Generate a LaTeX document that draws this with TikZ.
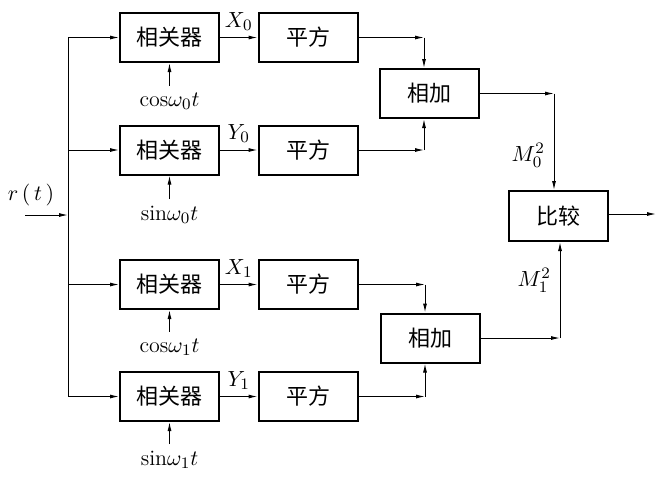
\documentclass[tikz,border=0pt]{standalone}
\usepackage{fontspec}
\newfontfamily\cjk{Noto Sans CJK SC}
\usetikzlibrary{arrows.meta}
\begin{document}
\begin{tikzpicture}[x=0.5pt, y=-0.5pt, every node/.style={font=\fontsize{11}{13}\selectfont},
    blk/.style={draw, line width=1pt, minimum width=49.5pt, minimum height=24.5pt, inner sep=0pt, font=\cjk\fontsize{11}{13}\selectfont},
    sig/.style={line width=0.5pt, -{Latex[length=4.5pt,width=2pt]}}]
  \useasboundingbox (0,0) rectangle (662,479);
  % correlators and squarers
  \foreach \i/\y in {0/37.5, 1/150, 2/284.5, 3/396.5} {
    \node[blk] (cor\i) at (169.5,\y) {相关器};
    \node[blk] (sq\i) at (308,\y) {平方};
  }
  \node[blk] (add0) at (429.5,93.5) {相加};
  \node[blk] (add1) at (430,338) {相加};
  \node[blk, minimum height=25pt] (cmp) at (558.5,216) {比较};
  % local references
  \node (ref0) at (169.5,101) {$\mathrm{cos}\omega_0 t$};
  \node (ref1) at (169.5,215) {$\mathrm{sin}\omega_0 t$};
  \node (ref2) at (169.5,347) {$\mathrm{cos}\omega_1 t$};
  \node (ref3) at (169.5,460) {$\mathrm{sin}\omega_1 t$};
  \foreach \i in {0,...,3}
    \draw[sig] (ref\i.north) -- (cor\i.south);
  % input bus
  \coordinate (in) at (25,215);
  \coordinate (bus) at (68,215);
  \node (rt) at (31,195) {$r\,(\,t\,)$};
  \draw[sig] (in) -- (bus);
  \draw[line width=0.5pt] (bus |- cor0) -- (bus |- cor3);
  \foreach \i in {0,...,3}
    \draw[sig] (bus |- cor\i) -- (cor\i);
  \draw[sig] (cor0) -- node[above] {$X_0$} (sq0);
  \draw[sig] (cor1) -- node[above] {$Y_0$} (sq1);
  \draw[sig] (cor2) -- node[above] {$X_1$} (sq2);
  \draw[sig] (cor3) -- node[above] {$Y_1$} (sq3);
  % squarers to adders
  \coordinate (j0) at (424,37.5);
  \coordinate (j1) at (424,150);
  \coordinate (j2) at (425,284.5);
  \coordinate (j3) at (425,396.5);
  \draw[sig] (sq0) -- (j0);
  \draw[sig] (j0) -- (j0 |- add0.north);
  \draw[sig] (sq1) -- (j1);
  \draw[sig] (j1) -- (j1 |- add0.south);
  \draw[sig] (sq2) -- (j2);
  \draw[sig] (j2) -- (j2 |- add1.north);
  \draw[sig] (sq3) -- (j3);
  \draw[sig] (j3) -- (j3 |- add1.south);
  % adders to comparator
  \coordinate (k0) at (554,93.5);
  \coordinate (k1) at (560,338);
  \draw[sig] (add0) -- (k0);
  \draw[sig] (k0) -- node[left, pos=0.64, xshift=-1pt] {$M_0^2$} (k0 |- cmp.north);
  \draw[sig] (add1) -- (k1);
  \draw[sig] (k1) -- node[left, pos=0.6, xshift=-1pt] {$M_1^2$} (k1 |- cmp.south);
  \coordinate (out) at (656,214);
  \draw[sig] (cmp.east |- out) -- (out);
\end{tikzpicture}
\end{document}
